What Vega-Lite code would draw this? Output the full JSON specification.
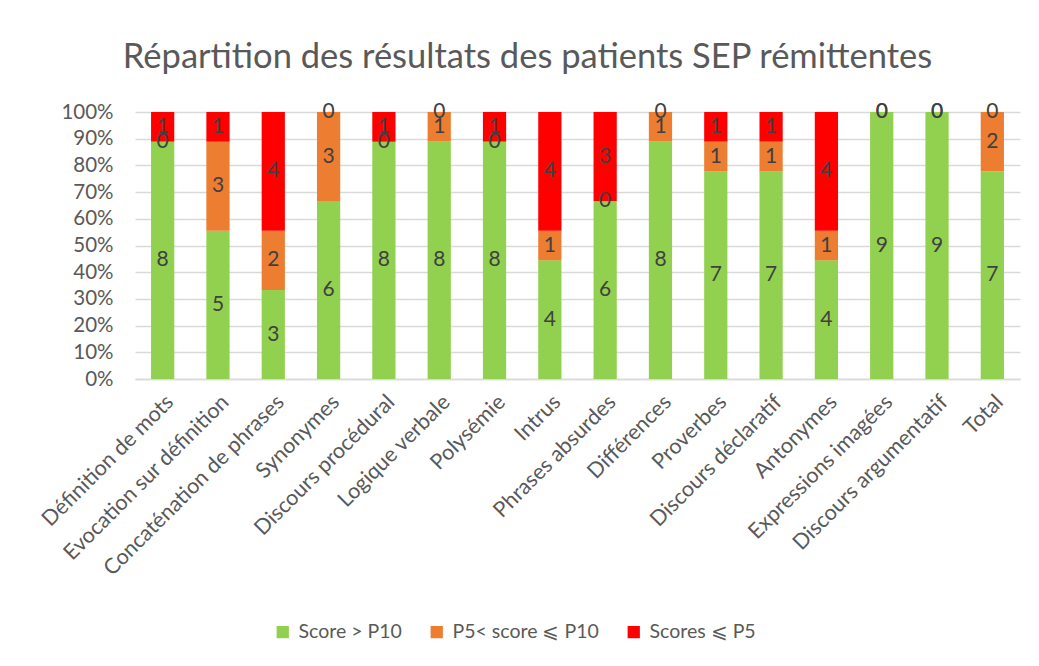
{
  "$schema": "https://vega.github.io/schema/vega-lite/v6.json",
  "width": 885,
  "height": 267,
  "autosize": {"type": "none"},
  "padding": {"left": 135, "top": 112, "right": 19, "bottom": 287},
  "background": "white",
  "title": {
    "text": "Répartition des résultats des patients SEP rémittentes",
    "font": "Lato",
    "fontSize": 34.5,
    "fontWeight": "normal",
    "color": "#595959",
    "anchor": "middle",
    "dx": -50,
    "offset": 26
  },
  "config": {
    "font": "Lato",
    "view": {"stroke": null},
    "axisY": {
      "labelFontSize": 20.5,
      "labelColor": "#595959",
      "labelOverlap": false,
      "ticks": false,
      "domain": false,
      "gridColor": "#D9D9D9",
      "gridWidth": 1.3,
      "labelPadding": 22
    }
  },
  "data": {
    "values": [
      {"cat": "Définition de mots", "serie": "Score > P10", "ord": 1, "n": 8},
      {"cat": "Définition de mots", "serie": "P5< score ⩽ P10", "ord": 2, "n": 0},
      {"cat": "Définition de mots", "serie": "Scores ⩽ P5", "ord": 3, "n": 1},
      {"cat": "Evocation sur définition", "serie": "Score > P10", "ord": 1, "n": 5},
      {"cat": "Evocation sur définition", "serie": "P5< score ⩽ P10", "ord": 2, "n": 3},
      {"cat": "Evocation sur définition", "serie": "Scores ⩽ P5", "ord": 3, "n": 1},
      {"cat": "Concaténation de phrases", "serie": "Score > P10", "ord": 1, "n": 3},
      {"cat": "Concaténation de phrases", "serie": "P5< score ⩽ P10", "ord": 2, "n": 2},
      {"cat": "Concaténation de phrases", "serie": "Scores ⩽ P5", "ord": 3, "n": 4},
      {"cat": "Synonymes", "serie": "Score > P10", "ord": 1, "n": 6},
      {"cat": "Synonymes", "serie": "P5< score ⩽ P10", "ord": 2, "n": 3},
      {"cat": "Synonymes", "serie": "Scores ⩽ P5", "ord": 3, "n": 0},
      {"cat": "Discours procédural", "serie": "Score > P10", "ord": 1, "n": 8},
      {"cat": "Discours procédural", "serie": "P5< score ⩽ P10", "ord": 2, "n": 0},
      {"cat": "Discours procédural", "serie": "Scores ⩽ P5", "ord": 3, "n": 1},
      {"cat": "Logique verbale", "serie": "Score > P10", "ord": 1, "n": 8},
      {"cat": "Logique verbale", "serie": "P5< score ⩽ P10", "ord": 2, "n": 1},
      {"cat": "Logique verbale", "serie": "Scores ⩽ P5", "ord": 3, "n": 0},
      {"cat": "Polysémie", "serie": "Score > P10", "ord": 1, "n": 8},
      {"cat": "Polysémie", "serie": "P5< score ⩽ P10", "ord": 2, "n": 0},
      {"cat": "Polysémie", "serie": "Scores ⩽ P5", "ord": 3, "n": 1},
      {"cat": "Intrus", "serie": "Score > P10", "ord": 1, "n": 4},
      {"cat": "Intrus", "serie": "P5< score ⩽ P10", "ord": 2, "n": 1},
      {"cat": "Intrus", "serie": "Scores ⩽ P5", "ord": 3, "n": 4},
      {"cat": "Phrases absurdes", "serie": "Score > P10", "ord": 1, "n": 6},
      {"cat": "Phrases absurdes", "serie": "P5< score ⩽ P10", "ord": 2, "n": 0},
      {"cat": "Phrases absurdes", "serie": "Scores ⩽ P5", "ord": 3, "n": 3},
      {"cat": "Différences", "serie": "Score > P10", "ord": 1, "n": 8},
      {"cat": "Différences", "serie": "P5< score ⩽ P10", "ord": 2, "n": 1},
      {"cat": "Différences", "serie": "Scores ⩽ P5", "ord": 3, "n": 0},
      {"cat": "Proverbes", "serie": "Score > P10", "ord": 1, "n": 7},
      {"cat": "Proverbes", "serie": "P5< score ⩽ P10", "ord": 2, "n": 1},
      {"cat": "Proverbes", "serie": "Scores ⩽ P5", "ord": 3, "n": 1},
      {"cat": "Discours déclaratif", "serie": "Score > P10", "ord": 1, "n": 7},
      {"cat": "Discours déclaratif", "serie": "P5< score ⩽ P10", "ord": 2, "n": 1},
      {"cat": "Discours déclaratif", "serie": "Scores ⩽ P5", "ord": 3, "n": 1},
      {"cat": "Antonymes", "serie": "Score > P10", "ord": 1, "n": 4},
      {"cat": "Antonymes", "serie": "P5< score ⩽ P10", "ord": 2, "n": 1},
      {"cat": "Antonymes", "serie": "Scores ⩽ P5", "ord": 3, "n": 4},
      {"cat": "Expressions imagées", "serie": "Score > P10", "ord": 1, "n": 9},
      {"cat": "Expressions imagées", "serie": "P5< score ⩽ P10", "ord": 2, "n": 0},
      {"cat": "Expressions imagées", "serie": "Scores ⩽ P5", "ord": 3, "n": 0},
      {"cat": "Discours argumentatif", "serie": "Score > P10", "ord": 1, "n": 9},
      {"cat": "Discours argumentatif", "serie": "P5< score ⩽ P10", "ord": 2, "n": 0},
      {"cat": "Discours argumentatif", "serie": "Scores ⩽ P5", "ord": 3, "n": 0},
      {"cat": "Total", "serie": "Score > P10", "ord": 1, "n": 7},
      {"cat": "Total", "serie": "P5< score ⩽ P10", "ord": 2, "n": 2},
      {"cat": "Total", "serie": "Scores ⩽ P5", "ord": 3, "n": 0}
    ]
  },
  "transform": [
    {"stack": "n", "groupby": ["cat"], "sort": [{"field": "ord", "order": "ascending"}], "offset": "normalize", "as": ["y0", "y1"]},
    {"calculate": "(datum.y0 + datum.y1) / 2", "as": "ymid"}
  ],
  "encoding": {
    "x": {
      "field": "cat",
      "type": "nominal",
      "sort": null,
      "title": null,
      "scale": {"paddingInner": 0.58, "paddingOuter": 0.29},
      "axis": {
        "labelAngle": -45,
        "labelFontSize": 21.5,
        "labelColor": "#595959",
        "ticks": false,
        "domainColor": "#D9D9D9",
        "domainWidth": 1.3,
        "labelPadding": 12,
        "labelLimit": 400,
        "labelOverlap": false
      }
    }
  },
  "layer": [
    {
      "mark": {"type": "bar"},
      "encoding": {
        "y": {
          "field": "y0",
          "type": "quantitative",
          "title": null,
          "scale": {"domain": [0, 1]},
          "axis": {"format": ".0%", "tickCount": 20, "values": [0, 0.1, 0.2, 0.3, 0.4, 0.5, 0.6, 0.7, 0.8, 0.9, 1], "labelOverlap": false}
        },
        "y2": {"field": "y1"},
        "color": {
          "field": "serie",
          "type": "nominal",
          "sort": ["Score > P10", "P5< score ⩽ P10", "Scores ⩽ P5"],
          "scale": {
            "domain": ["Score > P10", "P5< score ⩽ P10", "Scores ⩽ P5"],
            "range": ["#92D050", "#ED7D31", "#FF0000"]
          },
          "legend": {
            "title": null,
            "orient": "none",
            "direction": "horizontal",
            "legendX": 138,
            "legendY": 510,
            "symbolType": "square",
            "symbolSize": 150,
            "symbolStrokeWidth": 0,
            "labelFontSize": 19.5,
            "labelColor": "#595959",
            "columnPadding": 25,
            "labelOffset": 6
          }
        }
      }
    },
    {
      "mark": {"type": "text", "fontSize": 21, "color": "#404040", "baseline": "middle"},
      "encoding": {
        "y": {
          "field": "ymid",
          "type": "quantitative",
          "title": null,
          "axis": {"format": ".0%", "tickCount": 20, "values": [0, 0.1, 0.2, 0.3, 0.4, 0.5, 0.6, 0.7, 0.8, 0.9, 1], "labelOverlap": false}
        },
        "text": {"field": "n", "type": "quantitative"}
      }
    }
  ]
}
